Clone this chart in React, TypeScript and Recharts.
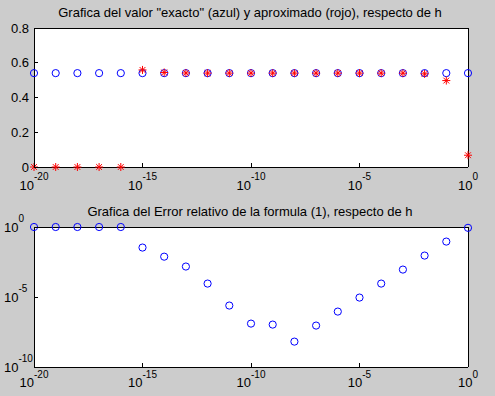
import React from 'react';
import { ScatterChart, Scatter, XAxis, YAxis, CartesianGrid } from 'recharts';

const hValues = [
  1e-20, 1e-19, 1e-18, 1e-17, 1e-16, 1e-15, 1e-14, 1e-13, 1e-12, 1e-11,
  1e-10, 1e-9, 1e-8, 1e-7, 1e-6, 1e-5, 1e-4, 1e-3, 1e-2, 1e-1, 1,
];
const exactValues = [
  0.5403, 0.5403, 0.5403, 0.5403, 0.5403, 0.5403, 0.5403, 0.5403, 0.5403, 0.5403,
  0.5403, 0.5403, 0.5403, 0.5403, 0.5403, 0.5403, 0.5403, 0.5403, 0.5403, 0.5403, 0.5403,
];
const approxValues = [
  0, 0, 0, 0, 0, 0.5587, 0.544, 0.5411, 0.5404, 0.5403,
  0.5403, 0.5403, 0.5403, 0.5403, 0.5403, 0.5403, 0.5403, 0.5399, 0.5361, 0.4974, 0.0678,
];
const relErrorValues = [
  1, 1, 1, 1, 1, 0.034, 0.0076, 0.0015, 9.1e-5, 2.45e-6,
  1.26e-7, 1.07e-7, 6.5e-9, 9.1e-8, 9.1e-7, 9.1e-6, 9.1e-5, 9.1e-4, 9.1e-3, 0.091, 0.874,
];

const xTicks = [1e-20, 1e-15, 1e-10, 1e-5, 1];
const topYTicks = [0, 0.2, 0.4, 0.6, 0.8];
const bottomYTicks = [1e-10, 1e-5, 1];
const topTitle = 'Grafica del valor "exacto" (azul) y aproximado (rojo), respecto de h';
const bottomTitle = 'Grafica del Error relativo de la formula (1), respecto de h';

const FONT = '"Liberation Sans", Arial, Helvetica, sans-serif';
const FS = 13;
const SUP = 10;
const TL = 4;

const exactData = hValues.map((h, i) => ({ h, v: exactValues[i] }));
const approxData = hValues.map((h, i) => ({ h, v: approxValues[i] }));
const errData = hValues.map((h, i) => ({ h, v: relErrorValues[i] }));

const expOf = (v: number) => String(Math.round(Math.log10(v)));

const makeXBottomTick = (dy: number) => (props: any) => {
  const { x, y, payload } = props;
  return (
    <g>
      <line x1={x} x2={x} y1={y} y2={y - TL} stroke="#000" shapeRendering="crispEdges" />
      <text x={x} y={y + dy} textAnchor="middle" fontSize={FS} fontFamily={FONT} fill="#000">
        <tspan>10</tspan>
        <tspan dy={-9.5} fontSize={SUP}>{expOf(payload.value)}</tspan>
      </text>
    </g>
  );
};

const XTopTick = (props: any) => {
  const { x, y } = props;
  return <line x1={x} x2={x} y1={y} y2={y + TL} stroke="#000" shapeRendering="crispEdges" />;
};

const YRightTick = (props: any) => {
  const { x, y } = props;
  return <line x1={x} x2={x - TL} y1={y} y2={y} stroke="#000" shapeRendering="crispEdges" />;
};

const YLinTick = (props: any) => {
  const { x, y, payload } = props;
  return (
    <g>
      <line x1={x} x2={x + TL} y1={y} y2={y} stroke="#000" shapeRendering="crispEdges" />
      <text x={x - 5} y={y + 4.5} textAnchor="end" fontSize={FS} fontFamily={FONT} fill="#000">
        {String(payload.value)}
      </text>
    </g>
  );
};

const YLogTick = (props: any) => {
  const { x, y, payload } = props;
  return (
    <g>
      <line x1={x} x2={x + TL} y1={y} y2={y} stroke="#000" shapeRendering="crispEdges" />
      <text x={x - 30} y={y + 4.5} textAnchor="start" fontSize={FS} fontFamily={FONT} fill="#000">
        <tspan>10</tspan>
        <tspan dy={-10} fontSize={SUP}>{expOf(payload.value)}</tspan>
      </text>
    </g>
  );
};

const Circle = (props: any) => {
  const { cx, cy } = props;
  if (cx == null || cy == null) return null;
  return <circle cx={cx} cy={cy} r={3.6} fill="none" stroke="#0000ff" strokeWidth={1} />;
};

const Star = (props: any) => {
  const { cx, cy } = props;
  if (cx == null || cy == null) return null;
  const r = 4;
  const d = 2.9;
  return (
    <g stroke="#ff0000" strokeWidth={1}>
      <line x1={cx - r} x2={cx + r} y1={cy} y2={cy} />
      <line x1={cx} x2={cx} y1={cy - r} y2={cy + r} />
      <line x1={cx - d} x2={cx + d} y1={cy - d} y2={cy + d} />
      <line x1={cx - d} x2={cx + d} y1={cy + d} y2={cy - d} />
    </g>
  );
};

const axisLine = { stroke: '#000', strokeWidth: 1, shapeRendering: 'crispEdges' } as any;

export default function App() {
  return (
    <div style={{ position: 'absolute', left: 0, top: 0, width: 495, height: 396, background: '#cccccc', overflow: 'hidden' }}>
      <div style={{ position: 'absolute', left: 0, top: 0 }}>
        <ScatterChart width={495} height={198} margin={{ top: 27, right: 26, bottom: 30, left: 33 }}>
          <CartesianGrid xAxisId="b" yAxisId="l" horizontal={false} vertical={false} fill="#ffffff" stroke="none" />
          <XAxis xAxisId="b" dataKey="h" type="number" scale="log" domain={[1e-20, 1]} ticks={xTicks} interval={0}
            height={1} tickSize={0} tickMargin={0} tickLine={false} axisLine={axisLine} tick={makeXBottomTick(22.5)} />
          <XAxis xAxisId="t" orientation="top" dataKey="h" type="number" scale="log" domain={[1e-20, 1]} ticks={xTicks} interval={0}
            height={1} tickSize={0} tickMargin={0} tickLine={false} axisLine={axisLine} tick={XTopTick} />
          <YAxis yAxisId="l" dataKey="v" type="number" domain={[0, 0.8]} ticks={topYTicks} interval={0}
            width={1} tickSize={0} tickMargin={0} tickLine={false} axisLine={axisLine} tick={YLinTick} />
          <YAxis yAxisId="r" orientation="right" dataKey="v" type="number" domain={[0, 0.8]} ticks={topYTicks} interval={0}
            width={1} tickSize={0} tickMargin={0} tickLine={false} axisLine={axisLine} tick={YRightTick} />
          <Scatter xAxisId="b" yAxisId="l" data={exactData} dataKey="v" shape={Circle} isAnimationActive={false} />
          <Scatter xAxisId="b" yAxisId="l" data={approxData} dataKey="v" shape={Star} isAnimationActive={false} />
        </ScatterChart>
      </div>
      <div style={{ position: 'absolute', left: 0, top: 198 }}>
        <ScatterChart width={495} height={198} margin={{ top: 28, right: 26, bottom: 28, left: 33 }}>
          <CartesianGrid xAxisId="b" yAxisId="l" horizontal={false} vertical={false} fill="#ffffff" stroke="none" />
          <XAxis xAxisId="b" dataKey="h" type="number" scale="log" domain={[1e-20, 1]} ticks={xTicks} interval={0}
            height={1} tickSize={0} tickMargin={0} tickLine={false} axisLine={axisLine} tick={makeXBottomTick(20)} />
          <XAxis xAxisId="t" orientation="top" dataKey="h" type="number" scale="log" domain={[1e-20, 1]} ticks={xTicks} interval={0}
            height={1} tickSize={0} tickMargin={0} tickLine={false} axisLine={axisLine} tick={XTopTick} />
          <YAxis yAxisId="l" dataKey="v" type="number" scale="log" domain={[1e-10, 1]} ticks={bottomYTicks} interval={0}
            width={1} tickSize={0} tickMargin={0} tickLine={false} axisLine={axisLine} tick={YLogTick} />
          <YAxis yAxisId="r" orientation="right" dataKey="v" type="number" scale="log" domain={[1e-10, 1]} ticks={bottomYTicks} interval={0}
            width={1} tickSize={0} tickMargin={0} tickLine={false} axisLine={axisLine} tick={YRightTick} />
          <Scatter xAxisId="b" yAxisId="l" data={errData} dataKey="v" shape={Circle} isAnimationActive={false} />
        </ScatterChart>
      </div>
      <svg width={495} height={396} style={{ position: 'absolute', left: 0, top: 0, pointerEvents: 'none' }}>
        <text x={250} y={17} textAnchor="middle" fontSize={FS} fontFamily={FONT} fill="#000">{topTitle}</text>
        <text x={250} y={216} textAnchor="middle" fontSize={FS} fontFamily={FONT} fill="#000">{bottomTitle}</text>
      </svg>
    </div>
  );
}
